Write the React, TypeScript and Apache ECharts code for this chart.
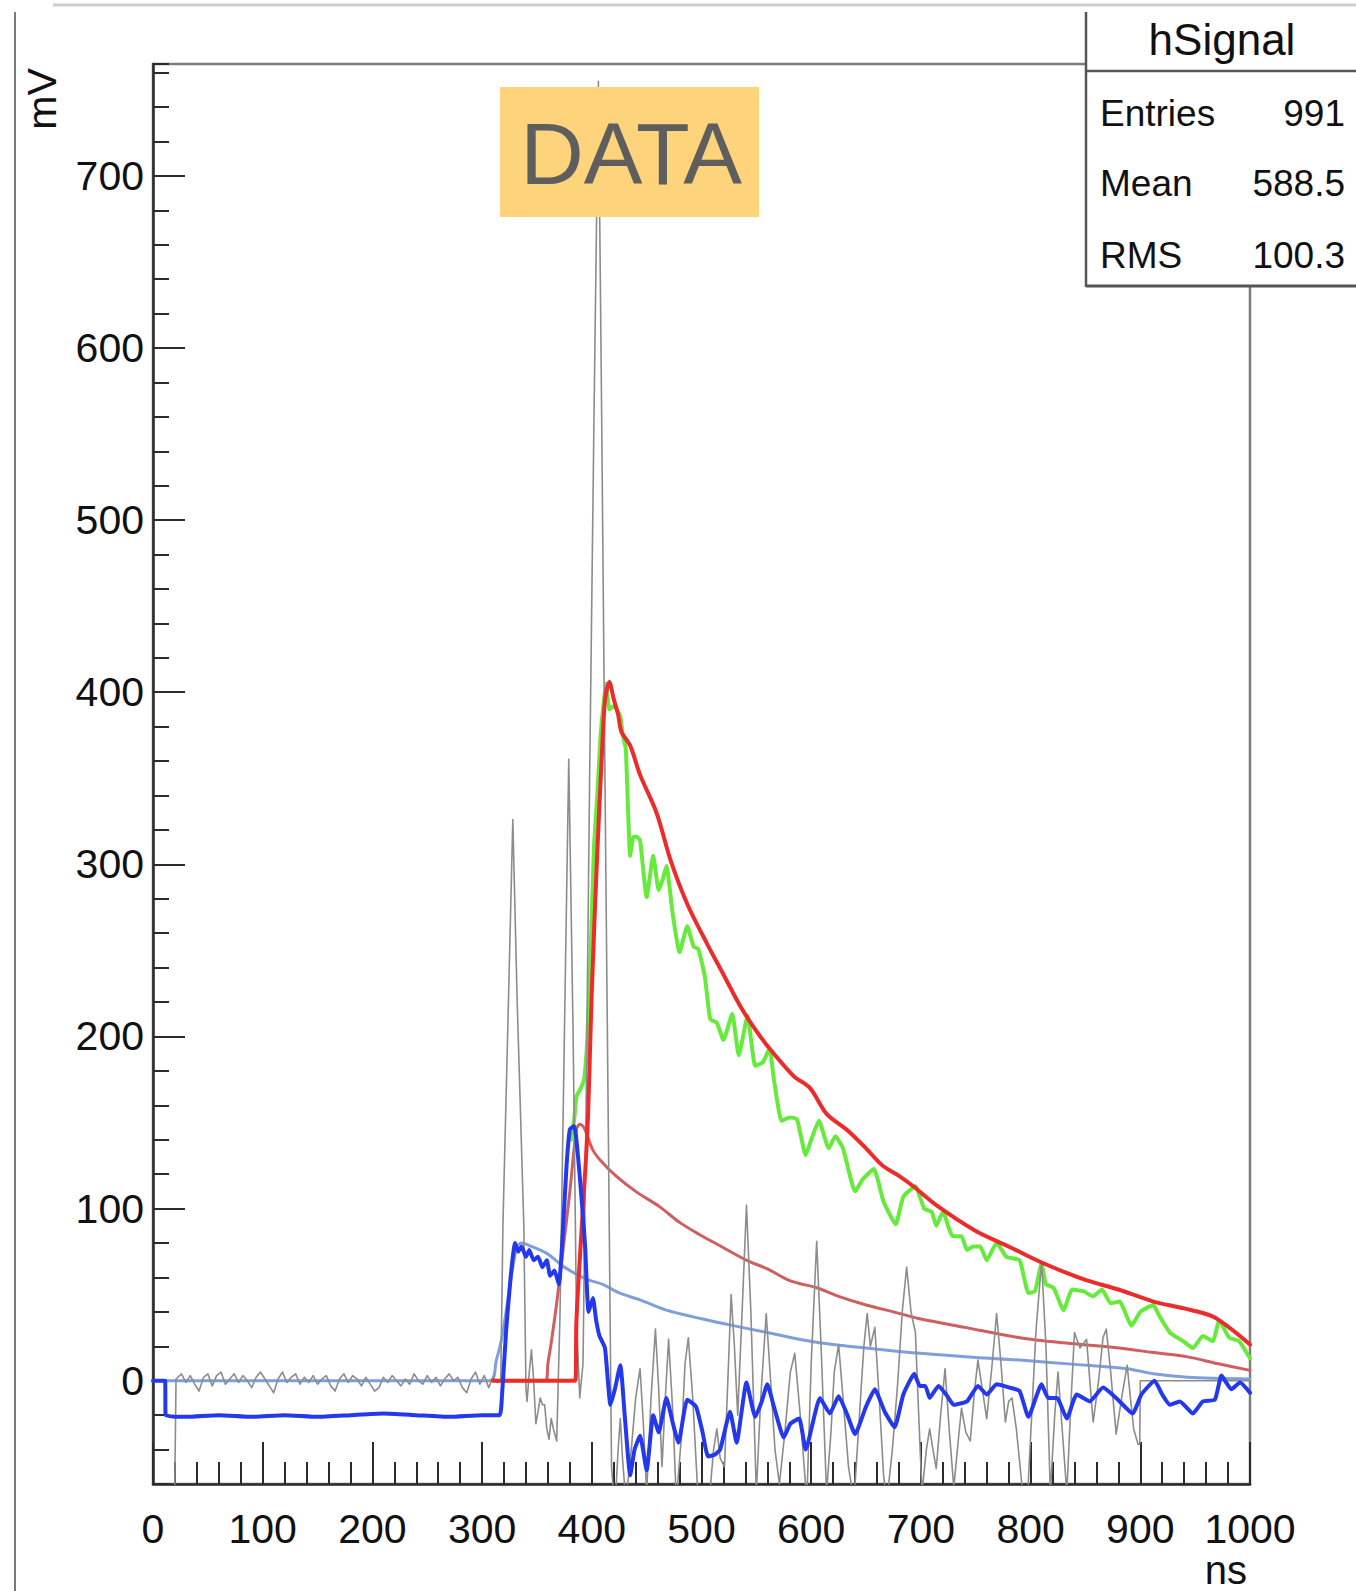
import React, { useEffect, useRef } from "react";
import * as echarts from "echarts";

// ---------- data (ns, mV) ----------
const greyBaseline: [number, number][] = [
  [0, -80], [19.5, -80], [21, 1], [26, 4], [30, -1], [34, 3], [38, -2], [42, -6], [46, 2], [50, 4], [54, -3], [58, 3],
  [62, 5], [66, -2], [70, 1], [74, 4], [78, -1], [82, 3], [86, 0], [90, -4], [94, 2], [98, 5], [102, 1], [106, -3],
  [110, -7], [114, 1], [118, 5], [122, -1], [126, 2], [130, 4], [134, -2], [138, 2], [142, -1], [146, 3], [150, -2],
  [154, 1], [158, 3], [162, -3], [166, -6], [170, 1], [174, 4], [178, -1], [182, 3], [186, 1], [190, -3], [194, 2],
  [198, -2], [202, -6], [206, -4], [210, 2], [214, -1], [218, 3], [222, 0], [226, -3], [230, 1], [234, -2], [238, 4],
  [242, 0], [246, -2], [250, 3], [254, -1], [258, 2], [262, -3], [266, 1], [270, 4], [274, 0], [278, 2], [282, -4],
  [286, -7], [290, 1], [294, 5], [298, -2], [302, 3], [306, -4], [310, 2], [314, -1], [317, 0],
];
const greyPulses: [number, number][] = [
  [319, 91], [324, 220], [328, 326], [332, 220], [338, 91], [340, -5], [341, -12], [343, 5], [345, 18], [347, 0],
  [349, -25], [351, -18], [353, -10], [355, -14], [357, -14], [359, -28], [361, -34], [363, -22], [365, -28],
  [368, -35], [371, 38], [375, 200], [379, 361], [383, 200], [386, 38], [389, -10], [392, 10], [395, 170],
  [398, 349], [402, 560], [406, 755], [409, 560], [412, 349], [415, 150], [418, -50], [421, -75],
];
const greyRinging: [number, number][] = [
  [424, -40], [426, -22], [428, -45], [431, -70], [436, -40], [440, -10], [444, 7], [447, -25], [450, -65], [454, -10],
  [458, 30], [461, -5], [464, -50], [467, -10], [470, 24], [474, -20], [477, -70], [482, -30], [485, 10], [488, 25],
  [492, -10], [497, -70], [502, -65], [507, -70], [511, -40], [514, -28], [517, -45], [521, -50], [524, 0], [527, 50],
  [530, 20], [533, -20], [537, 40], [541, 102], [545, 40], [550, -65], [554, -10], [559, 39], [563, 0], [567, -40],
  [571, -60], [576, -30], [581, 5], [585, 16], [590, -20], [596, -70], [600, 10], [605, 81], [609, 20], [614, -65],
  [618, -30], [621, 5], [625, 21], [629, -10], [634, -50], [639, -70], [644, -20], [648, 20], [651, 39], [654, 20],
  [658, 31], [662, -10], [666, -55], [669, -70], [674, -40], [679, 0], [683, 40], [687, 66], [691, 40], [695, 28],
  [698, -20], [701, -65], [705, -40], [708, -28], [711, -40], [714, -51], [718, -20], [722, 7], [726, -30], [730, -62],
  [734, -35], [737, -16], [741, -30], [745, -35], [749, -5], [752, 12], [756, -5], [760, -22], [765, 10], [769, 39],
  [773, 10], [777, -24], [780, -12], [783, -10], [787, -28], [792, -60], [797, -70], [801, -20], [805, 30], [810, 69],
  [814, 20], [818, -65], [822, -20], [825, 5], [829, -30], [833, -65], [837, -10], [840, 28], [845, 19], [851, 24],
  [854, 0], [857, -24], [862, 0], [866, 25], [869, 30], [873, 5], [878, -31], [883, -10], [888, 9], [891, -10],
  [894, -28], [898, -37], [899.5, -37], [900, 0], [1000, 0],
];

const blueData: [number, number][] = [
  [0, 0], [11, 0], [11.5, -20], [30, -21], [60, -20], [90, -21], [120, -20], [150, -21], [180, -20], [210, -19],
  [240, -20], [270, -21], [300, -20], [316, -20], [318, -10], [322, 30], [326, 60], [330, 80], [333, 75], [336, 78],
  [340, 72], [343, 76], [347, 70], [351, 72], [355, 66], [359, 70], [362, 61], [366, 64], [370, 56], [373, 80],
  [377, 125], [380, 146], [384, 148], [386, 140], [389, 119], [392, 95], [394, 77], [397, 40], [401, 48], [404, 35],
  [407, 26], [412, 19], [417, -14], [421, -5], [426, 9], [430, -20], [435, -55], [439, -40], [444, -32], [450, -52],
  [456, -20], [461, -30], [468, -10], [474, -25], [479, -36], [487, -11], [495, -15], [501, -30], [506, -44],
  [512, -43], [517, -40], [526, -18], [532, -36], [541, -1], [549, -21], [555, -12], [560, -2], [566, -15],
  [575, -33], [581, -25], [589, -22], [595, -40], [608, -10], [617, -19], [625, -9], [633, -20], [640, -31],
  [650, -15], [658, -5], [667, -18], [676, -27], [684, -8], [694, 4], [699, -3], [704, -3], [708, -10], [716, -3],
  [723, -8], [730, -14], [742, -12], [752, -3], [760, -8], [769, -2], [781, -4], [790, -6], [798, -21], [810, -2],
  [816, -10], [824, -10], [833, -22], [842, -8], [854, -12], [866, -4], [878, -10], [893, -19], [901, -8], [913, 0],
  [920, -8], [927, -14], [936, -12], [948, -19], [957, -12], [968, -11], [974, 3], [983, -5], [991, -1], [1000, -7],
];

const lightBlueData: [number, number][] = [
  [0, 0], [307, 0], [313, 12], [318, 25], [323, 45], [328, 66], [332, 78], [336, 80], [345, 78], [359, 74],
  [375, 66], [395, 59], [410, 56], [425, 51], [444, 47], [468, 41], [500, 36], [529, 32], [560, 28], [590, 24],
  [620, 21], [650, 19], [680, 17], [708, 15.5], [750, 13.5], [790, 12], [840, 9.5], [888, 7], [912, 4], [943, 2],
  [1000, 1],
];

const salmonData: [number, number][] = [
  [310, 0], [358, 0], [360, 10], [363, 22], [368, 45], [374, 77], [380, 110], [386, 146], [389, 149], [393, 147],
  [401, 134], [408, 128], [422, 119], [440, 110], [462, 101], [480, 92], [498, 85], [518, 78], [541, 70], [560, 65],
  [581, 58], [605, 54], [625, 49], [650, 44], [675, 40], [699, 36], [740, 31], [790, 25], [830, 22], [881, 19],
  [910, 16.5], [942, 14], [970, 10], [1000, 6],
];

const redData: [number, number][] = [
  [310, 0], [385, 0], [386, 35], [391, 91], [396, 145], [400, 226], [405, 307], [409, 361], [412, 395], [416, 406],
  [420, 396], [424, 387], [427, 377], [435, 369], [444, 352], [459, 330], [472, 302], [487, 277], [505, 254],
  [520, 236], [535, 218], [548, 205], [562, 193], [584, 177], [599, 170], [614, 155], [634, 145], [650, 135],
  [665, 125], [680, 119], [693, 113], [714, 102], [750, 87], [780, 78], [809, 69], [848, 59], [880, 53], [912, 46],
  [940, 42], [967, 37], [1000, 21],
];

const greenData: [number, number][] = [
  [381, 140], [384, 152], [386, 165], [390, 170], [393, 175], [396, 200], [399, 250], [402, 310], [405, 340],
  [408, 375], [411, 395], [413, 405], [416, 390], [420, 392], [426, 386], [428, 376], [431, 367], [435, 305],
  [438, 316], [441, 316], [444, 314], [450, 281], [456, 305], [461, 285], [465, 292], [468, 299], [474, 270],
  [480, 249], [487, 264], [493, 252], [497, 251], [503, 235], [508, 210], [514, 208], [520, 198], [528, 213],
  [534, 189], [542, 212], [549, 183], [556, 185], [562, 193], [566, 175], [573, 151], [580, 153], [587, 152],
  [595, 131], [600, 140], [607, 151], [616, 135], [622, 142], [629, 135], [640, 110], [647, 117], [657, 123],
  [666, 104], [677, 91], [684, 107], [695, 113], [703, 100], [710, 98], [714, 90], [720, 98], [729, 84], [737, 84],
  [742, 76], [748, 78], [754, 78], [760, 70], [769, 80], [778, 72], [790, 70], [798, 51], [804, 52], [810, 68],
  [814, 56], [821, 54], [830, 41], [838, 53], [848, 52], [857, 49], [865, 53], [873, 45], [881, 46], [892, 32],
  [900, 40], [912, 44], [917, 38], [927, 28], [939, 23], [948, 19], [957, 26], [966, 23], [972, 35], [981, 25],
  [990, 23], [1000, 13],
];

const statsTitle = "hSignal";
const statsRows: [string, string][] = [["Entries", "991"], ["Mean", "588.5"], ["RMS", "100.3"]];
const xAxisTitle = "ns";
const yAxisTitle = "mV";
const tagText = "DATA";

const FONT = '"Liberation Sans", Arial, Helvetica, sans-serif';

export default function App() {
  const ref = useRef<HTMLDivElement>(null);
  useEffect(() => {
    if (!ref.current) return;
    const chart = echarts.init(ref.current, undefined, { renderer: "svg" });
    const axisColor = "#2b2b2b";
    const lineSeries = (name: string, data: [number, number][], color: string, width: number, z: number, smooth: number | boolean = false) => ({
      name,
      type: "line",
      data,
      showSymbol: false,
      symbol: "none",
      clip: true,
      silent: true,
      smooth,
      z,
      lineStyle: { color, width, join: "round", cap: "round" },
    });
    const statsTexts: any[] = [];
    const rowY = [113, 183, 255];
    statsRows.forEach((r, i) => {
      statsTexts.push({
        type: "text", z: 102, x: 1100, y: rowY[i],
        style: { text: r[0], fill: "#111", font: `37px ${FONT}`, textAlign: "left", align: "left", textVerticalAlign: "middle", verticalAlign: "middle" },
      });
      statsTexts.push({
        type: "text", z: 102, x: 1345, y: rowY[i],
        style: { text: r[1], fill: "#111", font: `37px ${FONT}`, textAlign: "right", align: "right", textVerticalAlign: "middle", verticalAlign: "middle" },
      });
    });
    chart.setOption({
      animation: false,
      backgroundColor: "#ffffff",
      grid: {
        left: 153, right: 106, top: 64, bottom: 107,
        show: true, borderColor: "#7d7d7d", borderWidth: 2.5, backgroundColor: "transparent",
      },
      xAxis: {
        type: "value", min: 0, max: 1000, interval: 100, position: "bottom",
        axisLine: { show: true, onZero: false, lineStyle: { color: axisColor, width: 2.5 } },
        axisTick: { show: true, inside: true, length: 42, lineStyle: { color: axisColor, width: 2 } },
        minorTick: { show: true, splitNumber: 5, length: 22, lineStyle: { color: axisColor, width: 2 } },
        axisLabel: { margin: 24, fontSize: 41, color: "#111", fontFamily: FONT, formatter: (v: number) => String(v) },
        splitLine: { show: false },
        minorSplitLine: { show: false },
      },
      yAxis: [
        {
          type: "value", min: -60, max: 765, splitNumber: 8, position: "left",
          axisLine: { show: true, onZero: false, lineStyle: { color: axisColor, width: 2.5 } },
          axisTick: { show: true, inside: true, length: 32, lineStyle: { color: axisColor, width: 2 } },
          axisLabel: { margin: 9, fontSize: 41, color: "#111", fontFamily: FONT, showMinLabel: false, showMaxLabel: false, formatter: (v: number) => String(v) },
          splitLine: { show: false },
        },
        {
          type: "value", min: -60, max: 765, interval: 20, position: "left", offset: 0,
          axisLine: { show: false },
          axisTick: { show: true, inside: true, length: 16, lineStyle: { color: axisColor, width: 2 } },
          axisLabel: { show: false },
          splitLine: { show: false },
        },
      ],
      series: [
        lineSeries("fit2", lightBlueData, "#7f9fdc", 3, 2, 0.3),
        lineSeries("fit1", salmonData, "#cf5e5e", 3, 3, 0.3),
        lineSeries("sum", greenData, "#66ea3c", 4, 4, 0.15),
        lineSeries("raw", [...greyBaseline, ...greyPulses, ...greyRinging], "#8c8c8c", 1.6, 5),
        lineSeries("total", redData, "#ee2b2b", 4, 6, 0.3),
        lineSeries("deconv", blueData, "#2438ee", 4, 7, 0.15),
      ],
      graphic: [
        { type: "line", z: 100, shape: { x1: 53, y1: 5, x2: 1356, y2: 5 }, style: { stroke: "#cfcfcf", lineWidth: 3 } },
        { type: "line", z: 100, shape: { x1: 15, y1: 12, x2: 15, y2: 1591 }, style: { stroke: "#7a7a7a", lineWidth: 2 } },
        { type: "rect", z: 100, shape: { x: 1086, y: 12, width: 280, height: 274 }, style: { fill: "#ffffff" } },
        { type: "line", z: 101, shape: { x1: 1086, y1: 12, x2: 1086, y2: 287 }, style: { stroke: "#555", lineWidth: 2.5 } },
        { type: "line", z: 101, shape: { x1: 1086, y1: 286, x2: 1356, y2: 286 }, style: { stroke: "#555", lineWidth: 3 } },
        { type: "line", z: 101, shape: { x1: 1086, y1: 71, x2: 1356, y2: 71 }, style: { stroke: "#555", lineWidth: 2.5 } },
        {
          type: "text", z: 102, x: 1222, y: 39,
          style: { text: statsTitle, fill: "#111", font: `44px ${FONT}`, textAlign: "center", align: "center", textVerticalAlign: "middle", verticalAlign: "middle" },
        },
        ...statsTexts,
        { type: "rect", z: 100, shape: { x: 500, y: 87, width: 259, height: 130 }, style: { fill: "#FDD37B" } },
        {
          type: "text", z: 101, x: 631, y: 153,
          style: { text: tagText, fill: "#5e5e5e", font: `88px ${FONT}`, textAlign: "center", align: "center", textVerticalAlign: "middle", verticalAlign: "middle" },
        },
        {
          type: "text", z: 101, x: 1247, y: 1590,
          style: { text: xAxisTitle, fill: "#111", font: `40px ${FONT}`, textAlign: "right", align: "right", textVerticalAlign: "bottom", verticalAlign: "bottom" },
        },
        {
          type: "text", z: 101, x: 42, y: 99, rotation: Math.PI / 2,
          style: { text: yAxisTitle, fill: "#111", font: `41px ${FONT}`, textAlign: "center", align: "center", textVerticalAlign: "middle", verticalAlign: "middle" },
        },
      ],
    });
    return () => chart.dispose();
  }, []);
  return (
    <div
      ref={ref}
      style={{ position: "absolute", left: 0, top: 0, width: 1356, height: 1591 }}
    />
  );
}
